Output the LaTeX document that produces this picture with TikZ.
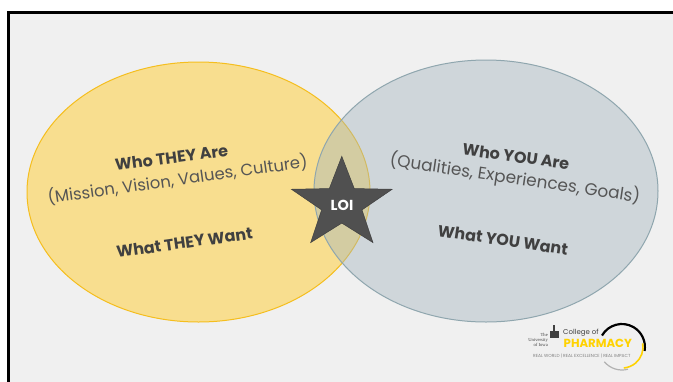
\documentclass[tikz,border=0pt]{standalone}
\usepackage{fontspec}
\setmainfont{Poppins}
\newfontfamily\iowafont{Liberation Serif}
\usetikzlibrary{shapes.geometric}
\definecolor{slidegray}{HTML}{F0F0F0}
\definecolor{theyfill}{HTML}{F8DE8F}
\definecolor{theyline}{HTML}{F5BE1E}
\definecolor{youfill}{HTML}{A4B6BD}
\definecolor{youline}{HTML}{8FA6AE}
\definecolor{inktext}{HTML}{404040}
\definecolor{listtext}{HTML}{555555}
\definecolor{starfill}{HTML}{505050}
\definecolor{iowagold}{HTML}{FFD200}
\tikzset{x=1pt,y=-1pt,
        heading/.style={
            font=\fontsize{16}{18}\selectfont\bfseries,
            text=inktext,
            inner sep=0pt
        },
        subheading/.style={
            font=\fontsize{16.9}{18}\selectfont,
            text=listtext,
            inner sep=0pt
        },
        logotext/.style={
            inner sep=0pt,
            text=inktext
        }
    }

\begin{document}
\begin{tikzpicture}
        \useasboundingbox (0,0) rectangle (673,381);
        \clip (0,0) rectangle (673,381);
        \fill[white] (0,0) rectangle (673,381);
        \draw[line width=2.6pt,fill=slidegray] (8.7,12.3) rectangle (700,420);
        % the two circles
        \path[fill=theyfill,draw=theyline,line width=1pt] (198.5,192) ellipse [x radius=171.5,y radius=130];
        \path[fill=youfill,fill opacity=0.43,draw=youline,line width=1pt] (486,191) ellipse [x radius=172,y radius=131];
        % left side
        \node[heading,rotate=7.5] (theyare) at (171.5,157.5) {Who THEY Are};
        \node[subheading,font=\fontsize{16.4}{18}\selectfont,rotate=8] (theylist) at (177.5,179.5) {(Mission, Vision, Values, Culture)};
        \node[heading,rotate=8] (theywant) at (184.5,242.5) {What THEY Want};
        % right side
        \node[heading,rotate=-8] (youare) at (516,156.5) {Who YOU Are};
        \node[subheading,rotate=-8.4] (youlist) at (515,178.5) {(Qualities, Experiences, Goals)};
        \node[heading,rotate=-8.5] (youwant) at (503,240) {What YOU Want};
        % star
        \node[star,star points=5,star point ratio=2.5,minimum size=106pt,inner sep=0pt,yscale=0.9,transform shape,fill=starfill,draw=inktext,line width=0.5pt] (star) at (341.8,204) {};
        \node[font=\fontsize{14.5}{16}\selectfont\bfseries,text=white,inner sep=0pt] (loi) at (342,205) {LOI};
        % logo
        \draw[line width=2.2pt,black] (602,335.5) arc[start angle=-150,end angle=10,radius=23];
        \draw[line width=1.6pt,iowagold] (642.7,343.4) arc[start angle=-10,end angle=85,radius=21];
        \draw[line width=1.2pt,gray!60] (604.4,361.8) arc[start angle=140,end angle=75,radius=23];
        \fill[inktext] (550,331) rectangle (559,338);
        \fill[inktext] (552.5,325) rectangle (555,331);
        \node[logotext,font=\iowafont\fontsize{4.6}{4.7}\selectfont,align=right,anchor=east] (iowa) at (548,340) {The\\University\\of Iowa};
        \node[logotext,font=\fontsize{7}{8}\selectfont,anchor=west] (college) at (563,333) {College of};
        \node[logotext,font=\fontsize{11.7}{13}\selectfont\bfseries,text=iowagold,anchor=west] (pharmacy) at (563.5,343.5) {PHARMACY};
        \node[logotext,font=\fontsize{4.4}{5}\selectfont,text=gray,anchor=west] (tagline) at (533,355.5) {REAL WORLD | REAL EXCELLENCE | REAL IMPACT};
    \end{tikzpicture}
\end{document}
